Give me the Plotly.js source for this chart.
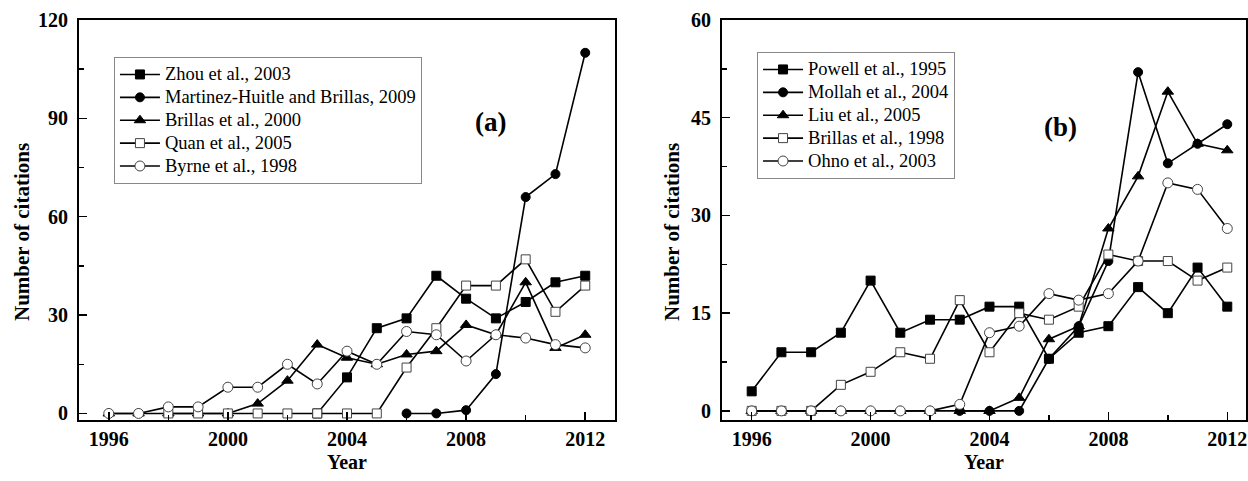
<!DOCTYPE html>
<html>
<head>
<meta charset="utf-8">
<script src="https://cdn.plot.ly/plotly-3.0.1.min.js"></script>
<style>html,body{margin:0;padding:0;background:#fff;}#chart{width:1248px;height:481px;}</style>
</head>
<body>
<div id="chart"></div>
<script>
// ---- Data ----
const years = [1996,1997,1998,1999,2000,2001,2002,2003,2004,2005,2006,2007,2008,2009,2010,2011,2012];

// Panel (a)
const namesA = ["Zhou et al., 2003","Martinez-Huitle and Brillas, 2009","Brillas et al., 2000","Quan et al., 2005","Byrne et al., 1998"];
const zhou2003      = [null,null,null,null,null,null,null,0,11,26,29,42,35,29,34,40,42];
const martinez2009  = [null,null,null,null,null,null,null,null,null,null,0,0,1,12,66,73,110];
const brillas2000   = [0,0,0,0,0,3,10,21,17,15,18,19,27,24,40,20,24];
const quan2005      = [null,null,0,0,0,0,0,0,0,0,14,26,39,39,47,31,39];
const byrne1998     = [0,0,2,2,8,8,15,9,19,15,25,24,16,24,23,21,20];

// Panel (b)
const namesB = ["Powell et al., 1995","Mollah et al., 2004","Liu et al., 2005","Brillas et al., 1998","Ohno et al., 2003"];
const powell1995    = [3,9,9,12,20,12,14,14,16,16,8,12,13,19,15,22,16];
const mollah2004    = [null,null,null,null,null,null,null,0,0,0,8,13,23,52,38,41,44];
const liu2005       = [0,0,0,0,0,0,0,0,0,2,11,13,28,36,49,41,40];
const brillas1998   = [0,0,0,4,6,9,8,17,9,15,14,16,24,23,23,20,22];
const ohno2003      = [0,0,0,0,0,0,0,1,12,13,18,17,18,23,35,34,28];

const seriesA = [zhou2003, martinez2009, brillas2000, quan2005, byrne1998];
const seriesB = [powell1995, mollah2004, liu2005, brillas1998, ohno2003];

// ---- Styles ----
const FONT = "Liberation Serif";
const markerStyles = [
  {symbol:"square", size:9, color:"#000", line:{color:"#000", width:1}},
  {symbol:"circle", size:9, color:"#000", line:{color:"#000", width:1}},
  {symbol:"triangle-up", size:10, color:"#000", line:{color:"#000", width:1}},
  {symbol:"square", size:9, color:"#fff", line:{color:"#444", width:1}},
  {symbol:"circle", size:10, color:"#fff", line:{color:"#444", width:1}}
];

function label(t){ return '<span style="font-size:18.5px">' + t + '</span>'; }

const traces = [];
seriesA.forEach((s,i)=>{
  traces.push({x:years, y:s, type:"scatter", mode:"lines+markers", name:label(namesA[i]),
    xaxis:"x", yaxis:"y", legend:"legend",
    line:{color:"#000", width:1.6}, marker:markerStyles[i], cliponaxis:false});
});
seriesB.forEach((s,i)=>{
  traces.push({x:years, y:s, type:"scatter", mode:"lines+markers", name:label(namesB[i]),
    xaxis:"x2", yaxis:"y2", legend:"legend2",
    line:{color:"#000", width:1.6}, marker:markerStyles[i], cliponaxis:false});
});

const tickFont = {family:FONT, size:20, color:"#000", weight:"bold"};
function xax(domain, range){
  return {domain:domain, range:range, tickmode:"linear", tick0:1996, dtick:4,
    ticks:"inside", ticklen:8, tickwidth:1.5, tickcolor:"#000",
    minor:{dtick:2, tick0:1996, ticks:"inside", ticklen:5, tickwidth:1.5, tickcolor:"#000"},
    showline:true, linewidth:2, linecolor:"#000", mirror:true,
    showgrid:false, zeroline:false, tickfont:tickFont, ticklabelstandoff:0, fixedrange:true};
}
function yax(range, dtick, anchor){
  return {domain:[0.1268, 0.9584], range:range, tickmode:"linear", tick0:0, dtick:dtick,
    ticks:"inside", ticklen:8, tickwidth:1.5, tickcolor:"#000",
    minor:{dtick:dtick/2, tick0:0, ticks:"inside", ticklen:5, tickwidth:1.5, tickcolor:"#000"},
    showline:true, linewidth:2, linecolor:"#000", mirror:true, anchor:anchor,
    showgrid:false, zeroline:false, tickfont:tickFont, ticklabelstandoff:5, fixedrange:true};
}
const legendBase = {bgcolor:"#fff", bordercolor:"#888", borderwidth:1,
  font:{family:FONT, size:15.3, color:"#000"}, xanchor:"left", yanchor:"top",
  itemwidth:40, tracegroupgap:0, itemclick:false};

const titleFont = {family:FONT, size:20, color:"#000", weight:"bold"};
const yTitle = (481-462)/481;
const layout = {
  width:1248, height:481, margin:{l:0,r:0,t:0,b:0},
  paper_bgcolor:"#fff", plot_bgcolor:"#fff", showlegend:true,
  xaxis: xax([0.0633, 0.4928], [1995, 2013]),
  yaxis: yax([-2, 120], 30, "x"),
  xaxis2: Object.assign(xax([0.5785, 0.9984], [1995, 2012.63]), {anchor:"y2"}),
  yaxis2: yax([-1.4, 60], 15, "x2"),
  legend: Object.assign({}, legendBase, {x:0.0913, y:(481-57)/481}),
  legend2: Object.assign({}, legendBase, {x:0.6066, y:(481-52)/481}),
  annotations:[
    {text:"(a)", xref:"paper", yref:"paper", x:490/1248, y:(481-122)/481, xanchor:"center", yanchor:"middle", showarrow:false,
      font:{family:FONT, size:27, color:"#000", weight:"bold"}},
    {text:"(b)", xref:"paper", yref:"paper", x:1060/1248, y:(481-127)/481, xanchor:"center", yanchor:"middle", showarrow:false,
      font:{family:FONT, size:27, color:"#000", weight:"bold"}},
    {text:"Year", xref:"paper", yref:"paper", x:347/1248, y:yTitle, xanchor:"center", yanchor:"middle", showarrow:false, font:titleFont},
    {text:"Year", xref:"paper", yref:"paper", x:984/1248, y:yTitle, xanchor:"center", yanchor:"middle", showarrow:false, font:titleFont},
    {text:"Number of citations", xref:"paper", yref:"paper", x:22/1248, y:(481-232)/481, xanchor:"center", yanchor:"middle", textangle:-90, showarrow:false,
      font:{family:FONT, size:21, color:"#000", weight:"bold"}},
    {text:"Number of citations", xref:"paper", yref:"paper", x:672/1248, y:(481-232)/481, xanchor:"center", yanchor:"middle", textangle:-90, showarrow:false,
      font:{family:FONT, size:21, color:"#000", weight:"bold"}}
  ]
};

Plotly.newPlot("chart", traces, layout, {displayModeBar:false, staticPlot:true});
</script>
</body>
</html>
